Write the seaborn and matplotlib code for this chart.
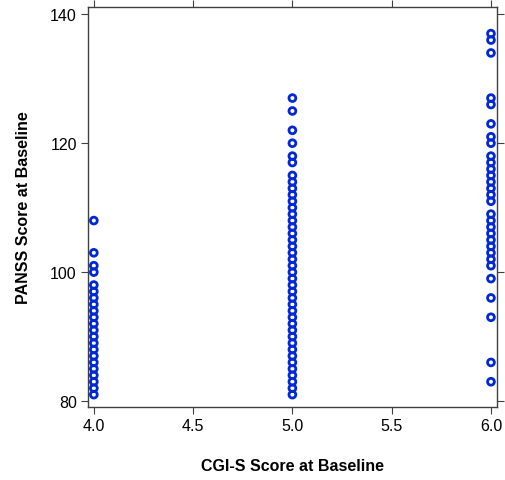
import numpy as np
import pandas as pd
import seaborn as sns
import matplotlib.pyplot as plt

# Baseline scores
cgi_levels = [4.0, 5.0, 6.0]
panss_cgi4 = [108, 103, 101, 100] + list(range(98, 80, -1))
panss_cgi5 = [127, 125, 122, 120, 118, 117] + list(range(115, 80, -1))
panss_cgi6 = [137, 136, 134, 127, 126, 123, 121, 120] + list(range(118, 110, -1)) \
    + list(range(109, 100, -1)) + [99, 96, 93, 86, 83]

df = pd.DataFrame({
    "cgi": [cgi_levels[0]] * len(panss_cgi4) + [cgi_levels[1]] * len(panss_cgi5)
           + [cgi_levels[2]] * len(panss_cgi6),
    "panss": panss_cgi4 + panss_cgi5 + panss_cgi6,
})

sns.set_style("white")
plt.rcParams["font.family"] = ["Liberation Sans", "DejaVu Sans"]
plt.rcParams["text.color"] = "black"
plt.rcParams["axes.labelcolor"] = "black"

fig = plt.figure(figsize=(5.05, 4.81), dpi=100)
ax = fig.add_axes([0.174, 0.152, 0.810, 0.831])

sns.scatterplot(data=df, x="cgi", y="panss", ax=ax, marker="o", s=24,
                facecolor="none", edgecolor="#0028D8", linewidth=2.0)

ax.set_xlim(3.97, 6.03)
ax.set_ylim(79.1, 141.1)
ax.set_xticks([4.0, 4.5, 5.0, 5.5, 6.0])
ax.set_xticklabels(["4.0", "4.5", "5.0", "5.5", "6.0"])
ax.set_yticks([80, 100, 120, 140])

for s in ax.spines.values():
    s.set_color("#404040")
    s.set_linewidth(1.0)
ax.tick_params(axis="both", which="both", direction="out", length=5, width=0.8,
               color="#404040", labelcolor="black", labelsize=11.5,
               top=True, right=True, bottom=True, left=True,
               labeltop=False, labelright=False, pad=3)

ax.set_xlabel("CGI-S Score at Baseline", fontsize=11.5, fontweight="bold", labelpad=18)
ax.set_ylabel("PANSS Score at Baseline", fontsize=11.5, fontweight="bold", labelpad=14)

fig.savefig("out.png", dpi=100)
